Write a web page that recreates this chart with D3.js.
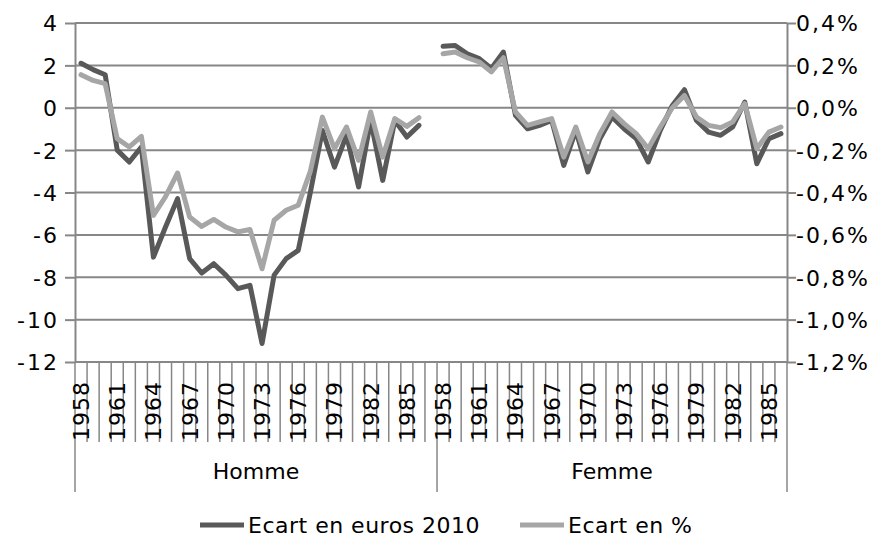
<!DOCTYPE html>
<html>
<head>
<meta charset="utf-8">
<script src="https://cdn.jsdelivr.net/npm/d3@7"></script>
<style>
  body { margin: 0; background: #fff; }
  svg text { font-family: "DejaVu Sans", Verdana, sans-serif; fill: #000; }
</style>
</head>
<body>
<div id="chart"></div>
<script>
// categories
var groups = ["Homme", "Femme"];
var yearsHomme = [1958, 1959, 1960, 1961, 1962, 1963, 1964, 1965, 1966, 1967,
                  1968, 1969, 1970, 1971, 1972, 1973, 1974, 1975, 1976, 1977,
                  1978, 1979, 1980, 1981, 1982, 1983, 1984, 1985, 1986, 1987];
var yearsFemme = [1958, 1959, 1960, 1961, 1962, 1963, 1964, 1965, 1966, 1967,
                  1968, 1969, 1970, 1971, 1972, 1973, 1974, 1975, 1976, 1977,
                  1978, 1979, 1980, 1981, 1982, 1983, 1984, 1985, 1986];
var yearLabels = [1958, 1961, 1964, 1967, 1970, 1973, 1976, 1979, 1982, 1985];

// series: ecart en euros 2010 (left axis)
var eurosHomme = [2.1, 1.8, 1.56, -2.0, -2.56, -1.85, -7.05, -5.63, -4.29, -7.12,
                  -7.8, -7.36, -7.9, -8.54, -8.38, -11.13, -7.9, -7.12, -6.73, -4.0,
                  -1.07, -2.8, -1.3, -3.74, -0.6, -3.43, -0.6, -1.38, -0.83, null];
var eurosFemme = [2.9, 2.94, 2.55, 2.32, 1.85, 2.63, -0.36, -0.99, -0.83, -0.6,
                  -2.72, -1.07, -3.03, -1.46, -0.44, -0.99, -1.46, -2.56, -1.07, 0.11,
                  0.85, -0.6, -1.15, -1.3, -0.91, 0.27, -2.64, -1.46, -1.22];

// series: ecart en % (right axis)
var pctHomme = [0.156, 0.129, 0.114, -0.146, -0.185, -0.135, -0.508, -0.42, -0.308, -0.516,
                -0.56, -0.527, -0.563, -0.586, -0.575, -0.76, -0.531, -0.484, -0.46, -0.30,
                -0.044, -0.193, -0.091, -0.248, -0.02, -0.233, -0.051, -0.088, -0.047, null];
var pctFemme = [0.255, 0.263, 0.236, 0.216, 0.169, 0.236, -0.02, -0.083, -0.067, -0.051,
                -0.233, -0.091, -0.256, -0.122, -0.02, -0.075, -0.122, -0.193, -0.091, 0.0,
                0.058, -0.044, -0.083, -0.094, -0.067, 0.019, -0.193, -0.115, -0.091];

var ticksLeft = [-12, -10, -8, -6, -4, -2, 0, 2, 4];
var ticksRight = [-1.2, -1.0, -0.8, -0.6, -0.4, -0.2, 0.0, 0.2, 0.4];

var seriesNames = ["Ecart en euros 2010", "Ecart en %"];
var seriesColors = ["#595959", "#a6a6a6"];

var width = 887, height = 541;
var plot = {left: 75, right: 787, top: 23, bottom: 362};
var gridColor = "#878787";

// combined category keys
var keys = [];
yearsHomme.forEach(function(y) { keys.push("Homme-" + y); });
yearsFemme.forEach(function(y) { keys.push("Femme-" + y); });

var x = d3.scaleBand().domain(keys).range([plot.left, plot.right]).padding(0);
var yLeft = d3.scaleLinear().domain([-12, 4]).range([plot.bottom, plot.top]);
var yRight = d3.scaleLinear().domain([-1.2, 0.4]).range([plot.bottom, plot.top]);

var svg = d3.select("#chart").append("svg")
    .attr("width", width)
    .attr("height", height);

// gridlines
svg.append("g").selectAll("line")
    .data(ticksLeft)
    .enter().append("line")
    .attr("x1", plot.left).attr("x2", plot.right)
    .attr("y1", function(d) { return yLeft(d); })
    .attr("y2", function(d) { return yLeft(d); })
    .attr("stroke", gridColor).attr("stroke-width", 2);

// left axis
var leftAxis = svg.append("g")
    .attr("transform", "translate(" + plot.left + ",0)")
    .call(d3.axisLeft(yLeft).tickValues(ticksLeft).tickSize(10).tickSizeOuter(0).tickPadding(6)
        .tickFormat(function(d) { return String(d); }));

// right axis
var rightAxis = svg.append("g")
    .attr("transform", "translate(" + plot.right + ",0)")
    .call(d3.axisRight(yRight).tickValues(ticksRight).tickSize(9).tickSizeOuter(0).tickPadding(0)
        .tickFormat(function(d) { return (d < 0 ? "-" : "") + Math.abs(d).toFixed(1).replace(".", ",") + "%"; }));

[leftAxis, rightAxis].forEach(function(a) {
    a.selectAll("path, line").attr("stroke", gridColor).attr("stroke-width", 2);
    a.selectAll("text").style("font-size", "22px").style("letter-spacing", "2px").attr("dy", "0.36em");
});

// category axis
var xAxis = svg.append("g");
xAxis.append("line")
    .attr("x1", plot.left).attr("x2", plot.right)
    .attr("y1", plot.bottom).attr("y2", plot.bottom)
    .attr("stroke", gridColor).attr("stroke-width", 2);

var groupStart = ["Homme-" + yearsHomme[0], "Femme-" + yearsFemme[0]];
xAxis.selectAll(".cat-tick")
    .data(keys.slice(1).filter(function(k) { return groupStart.indexOf(k) < 0; }))
    .enter().append("line")
    .attr("x1", function(k) { return x(k); })
    .attr("x2", function(k) { return x(k); })
    .attr("y1", plot.bottom).attr("y2", 442)
    .attr("stroke", gridColor).attr("stroke-width", 1.5);

var groupEdges = [x(groupStart[0]), x(groupStart[1]), plot.right];
xAxis.selectAll(".group-tick")
    .data(groupEdges)
    .enter().append("line")
    .attr("x1", function(d) { return d; })
    .attr("x2", function(d) { return d; })
    .attr("y1", plot.bottom).attr("y2", 492)
    .attr("stroke", gridColor).attr("stroke-width", 1.5);

var labelKeys = [];
groups.forEach(function(g) {
    yearLabels.forEach(function(y) { labelKeys.push({key: g + "-" + y, year: y}); });
});
xAxis.selectAll(".year")
    .data(labelKeys)
    .enter().append("text")
    .attr("transform", function(d) {
        return "translate(" + (x(d.key) + x.bandwidth() / 2) + ",381) rotate(-90)";
    })
    .attr("dy", "0.36em")
    .attr("text-anchor", "end")
    .style("font-size", "22px")
    .style("letter-spacing", "1px")
    .text(function(d) { return d.year; });

var groupCenters = [(groupEdges[0] + groupEdges[1]) / 2, (groupEdges[1] + groupEdges[2]) / 2];
xAxis.selectAll(".group")
    .data(groups)
    .enter().append("text")
    .attr("x", function(d, i) { return groupCenters[i]; })
    .attr("y", 479)
    .attr("text-anchor", "middle")
    .style("font-size", "22px")
    .text(function(d) { return d; });

// lines
function drawSeries(vals, years, group, yScale, color) {
    var pts = vals.map(function(v, i) { return {key: group + "-" + years[i], v: v}; });
    var line = d3.line()
        .defined(function(d) { return d.v !== null; })
        .x(function(d) { return x(d.key) + x.bandwidth() / 2; })
        .y(function(d) { return yScale(d.v); });
    svg.append("path")
        .datum(pts)
        .attr("d", line)
        .attr("fill", "none")
        .attr("stroke", color)
        .attr("stroke-width", 5)
        .attr("stroke-linejoin", "round")
        .attr("stroke-linecap", "round");
}

drawSeries(eurosHomme, yearsHomme, "Homme", yLeft, seriesColors[0]);
drawSeries(eurosFemme, yearsFemme, "Femme", yLeft, seriesColors[0]);
drawSeries(pctHomme, yearsHomme, "Homme", yRight, seriesColors[1]);
drawSeries(pctFemme, yearsFemme, "Femme", yRight, seriesColors[1]);

// legend
var legendX = [200, 520];
var legend = svg.append("g").selectAll("g")
    .data(seriesNames)
    .enter().append("g")
    .attr("transform", function(d, i) { return "translate(" + legendX[i] + ",525)"; });
legend.append("line")
    .attr("x1", 0).attr("x2", 44)
    .attr("stroke", function(d, i) { return seriesColors[i]; })
    .attr("stroke-width", 5);
legend.append("text")
    .attr("x", 48)
    .attr("dy", "0.36em")
    .style("font-size", "22px")
    .style("letter-spacing", "0.5px")
    .text(function(d) { return d; });
</script>
</body>
</html>
